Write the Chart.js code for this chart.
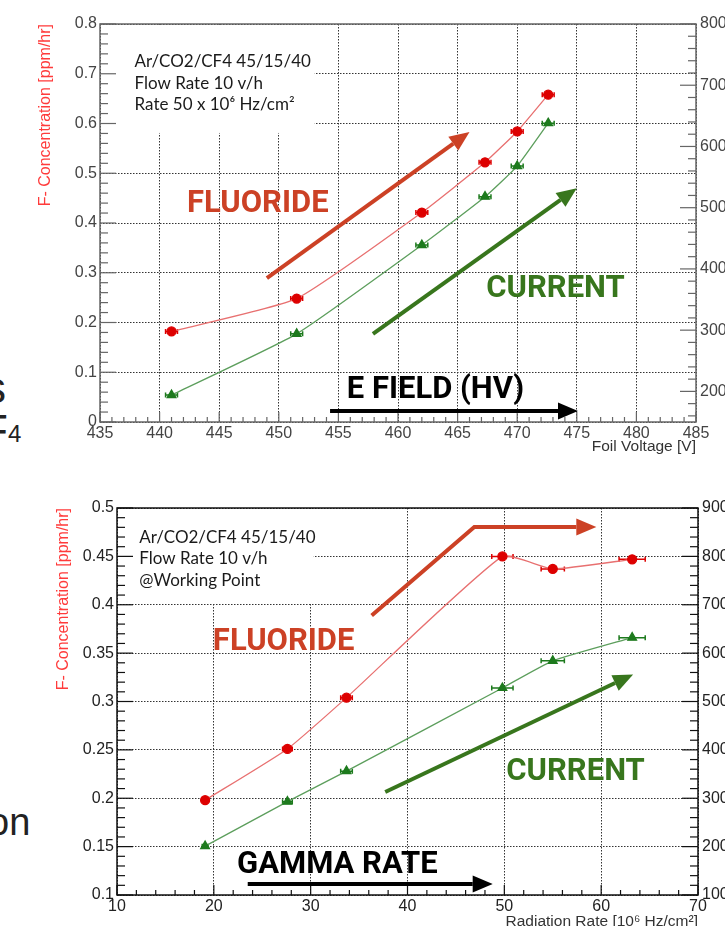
<!DOCTYPE html>
<html>
<head>
<meta charset="utf-8">
<script src="https://cdn.jsdelivr.net/npm/chart.js@4.4.1/dist/chart.umd.min.js"></script>
<style>
  html, body { margin: 0; padding: 0; background: #fff; overflow: hidden; width: 725px; height: 926px; }
  canvas { position: absolute; left: 0; }
  #c1 { top: 0; }
  #c2 { top: 470px; }
  .frag { position: absolute; font-family: "Liberation Sans", Arial, sans-serif; color: #222; line-height: 1; white-space: nowrap; }
</style>
</head>
<body>
<!-- bits of slide text cut off at the left edge -->
<div class="frag" style="left:-16px; top:366px; font-size:44px;">s</div>
<div class="frag" style="left:-19px; top:409px; font-size:44px;">F</div>
<div class="frag" style="left:8px; top:422px; font-size:24px;">4</div>
<div class="frag" style="left:-12px; top:803px; font-size:38px;">on</div>

<canvas id="c1" width="725" height="470"></canvas>
<canvas id="c2" width="725" height="480"></canvas>

<script>
// ---- data: fluoride / current vs foil voltage
const voltage     = [441.0, 451.5, 462.0, 467.3, 470.0, 472.6];
const voltageErr  = [0.5, 0.5, 0.5, 0.5, 0.5, 0.5];
const fluorideHV  = [0.182, 0.248, 0.421, 0.522, 0.584, 0.658];
const currentHV   = [194, 294, 439, 518, 568, 638];
const currentTicksHV = [200, 300, 400, 500, 600, 700, 800];

// ---- data: fluoride / current vs radiation rate
const rate         = [19.1, 27.6, 33.7, 49.8, 55.0, 63.2];
const rateErr      = [0.3, 0.5, 0.6, 1.1, 1.2, 1.35];
const fluorideRate = [0.198, 0.251, 0.304, 0.450, 0.437, 0.447];
const currentRate  = [201, 293, 356, 528, 584, 632];
const currentTicksRate = [100, 200, 300, 400, 500, 600, 700, 800, 900];

const NOTE_RED = '#cc4125';
const NOTE_GREEN = '#38761d';

Chart.defaults.font.family = "'Liberation Sans', Arial, sans-serif";
Chart.defaults.font.size = 16;

// annotations, in data units of x / left y
const topNotes = {
  box: [435, 453, 0.581, 0.8],
  info: { x: 437.9, y: 0.724, lines: ['Ar/CO2/CF4 45/15/40', 'Flow Rate 10 v/h', 'Rate 50 x 10\u2076 Hz/cm\u00b2'] },
  labels: [
    { text: 'FLUORIDE', x: 442.3, y: 0.438, color: NOTE_RED },
    { text: 'CURRENT', x: 467.4, y: 0.267, color: NOTE_GREEN },
    { text: 'E FIELD (HV)', x: 455.7, y: 0.064, color: '#000' }
  ],
  arrows: [
    { pts: [[449.0, 0.289], [466.0, 0.583]], color: NOTE_RED },
    { pts: [[457.9, 0.177], [475.0, 0.470]], color: NOTE_GREEN },
    { pts: [[454.3, 0.022], [475.1, 0.022]], color: '#000' }
  ],
  frame: '#666', yMinor: { step: 0.02, per: 5 }, y1Minor: { step: 20, per: 5 }, xMinor: { step: 1, per: 5 }
};

const bottomNotes = {
  box: [10, 30.3, 0.401, 0.5],
  info: { x: 12.3, y: 0.470, lines: ['Ar/CO2/CF4 45/15/40', 'Flow Rate 10 v/h', '@Working Point'] },
  labels: [
    { text: 'FLUORIDE', x: 19.9, y: 0.3615, color: NOTE_RED },
    { text: 'CURRENT', x: 50.2, y: 0.227, color: NOTE_GREEN },
    { text: 'GAMMA RATE', x: 22.4, y: 0.131, color: '#000' }
  ],
  arrows: [
    { pts: [[36.3, 0.389], [46.9, 0.4804], [59.5, 0.4804]], color: NOTE_RED },
    { pts: [[37.7, 0.2065], [63.3, 0.328]], color: NOTE_GREEN },
    { pts: [[23.5, 0.1114], [48.8, 0.1114]], color: '#000' }
  ],
  frame: '#111', yMinor: { step: 0.01, per: 5 }, y1Minor: { step: 20, per: 5 }, xMinor: { step: 2, per: 5 }
};

function arrow(ctx, pts, color) {
  const n = pts.length;
  const [tx, ty] = pts[n - 1], [qx, qy] = pts[n - 2];
  const ang = Math.atan2(ty - qy, tx - qx);
  const hl = 20, hw = 17;
  const bx = tx - hl * Math.cos(ang), by = ty - hl * Math.sin(ang);
  ctx.strokeStyle = color; ctx.fillStyle = color; ctx.lineWidth = 4;
  ctx.beginPath();
  ctx.moveTo(pts[0][0], pts[0][1]);
  for (let i = 1; i < n - 1; i++) ctx.lineTo(pts[i][0], pts[i][1]);
  ctx.lineTo(bx, by);
  ctx.stroke();
  ctx.beginPath();
  ctx.moveTo(tx, ty);
  ctx.lineTo(bx + hw / 2 * Math.sin(ang), by - hw / 2 * Math.cos(ang));
  ctx.lineTo(bx - hw / 2 * Math.sin(ang), by + hw / 2 * Math.cos(ang));
  ctx.closePath();
  ctx.fill();
}

function ticksOn(ctx, scale, side, a, minor) {
  const m = minor.step, n = minor.per;
  const k0 = Math.ceil(scale.min / m - 1e-6), k1 = Math.floor(scale.max / m + 1e-6);
  for (let k = k0; k <= k1; k++) {
    const major = k % n === 0;
    const len = side === 'bottom' ? (major ? 10 : 5) : (major ? 16 : 8);
    const p = scale.getPixelForValue(k * m);
    ctx.beginPath();
    if (side === 'left') { ctx.moveTo(a.left, p); ctx.lineTo(a.left + len, p); }
    else if (side === 'right') { ctx.moveTo(a.right, p); ctx.lineTo(a.right - len, p); }
    else { ctx.moveTo(p, a.bottom); ctx.lineTo(p, a.bottom - len); }
    ctx.stroke();
  }
}

// ROOT-ish look: inward ticks, frame, error bars, slide annotations
function rootStyle(notes) {
  return {
    id: 'rootStyle',
    beforeDatasetsDraw(chart) {
      const { ctx, chartArea: a, scales } = chart;
      const x = scales.x, y = scales.y;
      ctx.save();
      const b = notes.box;
      const bx0 = x.getPixelForValue(b[0]) + 1, bx1 = x.getPixelForValue(b[1]);
      const by0 = y.getPixelForValue(b[3]) + 1, by1 = y.getPixelForValue(b[2]);
      ctx.fillStyle = '#fff';
      ctx.fillRect(bx0, by0, bx1 - bx0, by1 - by0);

      ctx.strokeStyle = notes.frame;
      ctx.lineWidth = 1.5;
      ctx.strokeRect(a.left, a.top, a.right - a.left, a.bottom - a.top);
      ctx.lineWidth = 1.2;
      ticksOn(ctx, scales.y, 'left', a, notes.yMinor);
      ticksOn(ctx, scales.y1, 'right', a, notes.y1Minor);
      ticksOn(ctx, x, 'bottom', a, notes.xMinor);

      chart.data.datasets.forEach(ds => {
        const ys = scales[ds.yAxisID];
        ctx.strokeStyle = ds.pointBackgroundColor;
        ctx.lineWidth = 1.5;
        ds.data.forEach((p, j) => {
          const e = ds.xErr[j];
          const py = ys.getPixelForValue(p.y);
          const l = x.getPixelForValue(p.x - e), r = x.getPixelForValue(p.x + e);
          ctx.beginPath();
          ctx.moveTo(l, py); ctx.lineTo(r, py);
          ctx.moveTo(l, py - 2.5); ctx.lineTo(l, py + 2.5);
          ctx.moveTo(r, py - 2.5); ctx.lineTo(r, py + 2.5);
          ctx.stroke();
        });
      });
      ctx.restore();
    },
    afterDatasetsDraw(chart) {
      const { ctx, scales: { x, y } } = chart;
      const px = v => x.getPixelForValue(v), py = v => y.getPixelForValue(v);
      ctx.save();
      ctx.textBaseline = 'middle';
      ctx.textAlign = 'left';
      ctx.font = '17px Lato';
      ctx.fillStyle = '#1a1a1a';
      notes.info.lines.forEach((t, i) => ctx.fillText(t, px(notes.info.x), py(notes.info.y) + i * 21.5));
      notes.arrows.forEach(ar => arrow(ctx, ar.pts.map(p => [px(p[0]), py(p[1])]), ar.color));
      ctx.font = 'bold 31px Roboto';
      notes.labels.forEach(l => {
        ctx.fillStyle = l.color;
        ctx.fillText(l.text, px(l.x), py(l.y));
      });
      ctx.restore();
    }
  };
}

function series(xs, ys, errs, axis, line, marker, style, radius) {
  return {
    data: xs.map((v, i) => ({ x: v, y: ys[i] })),
    xErr: errs,
    yAxisID: axis,
    borderColor: line,
    borderWidth: 1.3,
    pointBackgroundColor: marker,
    pointBorderColor: marker,
    pointStyle: style,
    pointRadius: radius,
    tension: 0.15
  };
}

// ROOT prints 0.5, 0.45, 0.4 ... (no padded decimals)
const plainNum = v => String(+v.toFixed(3));

function makeChart(id, o) {
  const dotted = { display: false, dash: [1.5, 1.5] };
  return new Chart(document.getElementById(id), {
    type: 'line',
    data: {
      datasets: [
        series(o.xs, o.fl, o.err, 'y', '#e87070', '#dd0000', 'circle', 4.5),
        series(o.xs, o.cur, o.err, 'y1', '#5c9e5c', '#1d7a1d', 'triangle', 5)
      ]
    },
    options: {
      responsive: false,
      animation: false,
      layout: { padding: { top: o.top, left: 0, right: 0, bottom: 0 } },
      plugins: { legend: { display: false }, tooltip: { enabled: false } },
      scales: {
        x: {
          type: 'linear', min: o.xMin, max: o.xMax,
          ticks: { stepSize: o.xStep, color: o.tickColor, padding: 2, maxRotation: 0 },
          grid: { color: '#333', lineWidth: 1, drawTicks: false },
          border: dotted,
          title: { display: true, text: o.xTitle, align: 'end', color: '#333', font: { size: 15.5 }, padding: { top: 0, bottom: o.xTitlePad } },
          afterFit: s => { s.height = o.xHeight; }
        },
        y: {
          position: 'left', min: o.yMin, max: o.yMax,
          ticks: { stepSize: o.yStep, color: o.tickColor, padding: 3, callback: plainNum },
          grid: { color: '#333', lineWidth: 1, drawTicks: false },
          border: dotted,
          title: { display: true, text: 'F- Concentration [ppm/hr]', align: 'end', color: '#ff3b3b', font: { size: 16 }, padding: { top: o.yTitlePad, bottom: 0 } },
          afterFit: s => { s.width = o.leftW; }
        },
        y1: {
          position: 'right', min: o.y1Min, max: o.y1Max,
          ticks: { color: o.tickColor, padding: 4 },
          grid: { display: false, drawTicks: false },
          border: { display: false },
          afterBuildTicks: s => { s.ticks = o.y1Ticks.map(v => ({ value: v })); },
          afterFit: s => { s.width = o.rightW; }
        }
      }
    },
    plugins: [rootStyle(o.notes)]
  });
}

makeChart('c1', {
  xs: voltage, fl: fluorideHV, cur: currentHV, err: voltageErr,
  xMin: 435, xMax: 485, xStep: 5, xTitle: 'Foil Voltage [V]',
  yMin: 0, yMax: 0.8, yStep: 0.1,
  y1Min: 150, y1Max: 800, y1Ticks: currentTicksHV,
  top: 24, leftW: 100, rightW: 29, xHeight: 48, xTitlePad: 14, yTitlePad: 36,
  tickColor: '#444', notes: topNotes
});

makeChart('c2', {
  xs: rate, fl: fluorideRate, cur: currentRate, err: rateErr,
  xMin: 10, xMax: 70, xStep: 10, xTitle: 'Radiation Rate [10\u2076 Hz/cm\u00b2]',
  yMin: 0.1, yMax: 0.5, yStep: 0.05,
  y1Min: 100, y1Max: 900, y1Ticks: currentTicksRate,
  top: 38, leftW: 117, rightW: 27, xHeight: 55, xTitlePad: 19, yTitlePad: 54,
  tickColor: '#222', notes: bottomNotes
});
</script>
</body>
</html>
